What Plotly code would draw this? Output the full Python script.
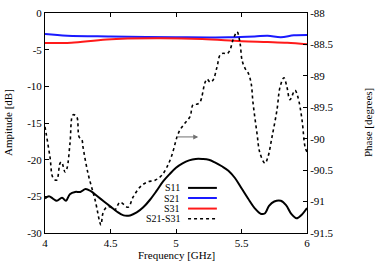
import plotly.graph_objects as go

freq_s11 = [4.0, 4.03, 4.06, 4.09, 4.13, 4.16, 4.19, 4.23, 4.27, 4.31, 4.35, 4.4, 4.45, 4.5, 4.55, 4.6,
            4.65, 4.7, 4.75, 4.8, 4.85, 4.9, 4.95, 5.0, 5.05, 5.1, 5.15, 5.2, 5.25, 5.3, 5.35, 5.4,
            5.45, 5.5, 5.55, 5.6, 5.65, 5.68, 5.71, 5.75, 5.8, 5.84, 5.88, 5.92, 5.96, 6.0]
s11 = [-25.3, -25.0, -25.3, -25.6, -25.2, -25.6, -24.7, -24.4, -24.4, -24.0, -24.3, -25.0, -25.7, -26.4, -27.1, -27.6,
       -27.6, -27.2, -26.5, -25.5, -24.3, -23.0, -22.0, -21.1, -20.5, -20.1, -19.9, -19.9, -20.0, -20.4, -20.9, -21.5,
       -22.5, -23.9, -25.3, -26.6, -27.4, -27.3, -26.3, -25.7, -25.6, -26.2, -27.4, -28.0, -27.5, -26.6]

freq_s21 = [4.0, 4.17, 4.5, 5.0, 5.4, 5.6, 5.7, 5.8, 5.9, 6.0]
s21 = [-2.86, -3.09, -3.2, -3.3, -3.32, -3.2, -3.1, -3.3, -3.05, -3.0]

freq_s31 = [4.0, 4.2, 4.47, 4.85, 5.2, 5.5, 5.7, 5.85, 6.0]
s31 = [-4.1, -4.05, -3.6, -3.45, -3.55, -3.85, -3.95, -4.05, -4.27]

freq_ph = [4.0, 4.038, 4.061, 4.089, 4.115, 4.127, 4.153, 4.168, 4.191, 4.214, 4.242, 4.26, 4.282, 4.29,
           4.328, 4.382, 4.427, 4.443, 4.471, 4.511, 4.534, 4.573, 4.634, 4.672, 4.725, 4.779, 4.84,
           4.893, 4.931, 4.969, 5.008, 5.031, 5.069, 5.107, 5.13, 5.16, 5.183, 5.221, 5.237, 5.26,
           5.282, 5.313, 5.336, 5.359, 5.389, 5.412, 5.435, 5.466, 5.489, 5.504, 5.527, 5.55, 5.573,
           5.588, 5.618, 5.641, 5.679, 5.702, 5.733, 5.771, 5.794, 5.824, 5.847, 5.87, 5.908, 5.931,
           5.962, 5.985, 6.0]
phase = [-89.81, -90.29, -90.62, -90.66, -90.39, -90.37, -90.53, -90.47, -90.07, -89.62, -89.65, -89.97,
         -90.02, -90.13, -90.55, -90.97, -91.37, -91.18, -91.09, -91.09, -91.13, -91.01, -91.09, -90.93,
         -90.77, -90.69, -90.66, -90.58, -90.45, -90.26, -89.97, -89.86, -89.75, -89.65, -89.46, -89.45,
         -89.42, -89.11, -89.05, -89.10, -89.07, -88.86, -88.67, -88.64, -88.65, -88.59, -88.43, -88.30,
         -88.48, -88.75, -88.88, -88.95, -89.11, -89.43, -89.91, -90.23, -90.39, -90.29, -89.97, -89.54,
         -89.18, -89.03, -89.18, -89.38, -89.23, -89.34, -89.70, -90.13, -90.21]

x_ticks = [4, 4.5, 5, 5.5, 6]
y_ticks = [0, -5, -10, -15, -20, -25, -30]
y2_ticks = [-88, -88.5, -89, -89.5, -90, -90.5, -91, -91.5]

series_names = ["S11", "S21", "S31", "S21-S31"]
series_colors = ["black", "#1a1aff", "#ff1a1a", "black"]
series_dash = ["solid", "solid", "solid", "dot"]

FONT = "'Liberation Serif', 'Times New Roman', serif"

fig = go.Figure()
fig.add_trace(go.Scatter(x=freq_s21, y=s21, mode="lines", line=dict(color=series_colors[1], width=2, shape="spline"), name="S21"))
fig.add_trace(go.Scatter(x=freq_s31, y=s31, mode="lines", line=dict(color=series_colors[2], width=2, shape="spline"), name="S31"))
fig.add_trace(go.Scatter(x=freq_s11, y=s11, mode="lines", line=dict(color=series_colors[0], width=2, shape="spline"), name="S11"))
fig.add_trace(go.Scatter(x=freq_ph, y=phase, mode="lines", yaxis="y2",
                         line=dict(color=series_colors[3], width=1.6, dash="dot", shape="spline"), name="S21-S31"))

# manual legend (gnuplot style: text right, sample to the right)
leg_y = [0.205, 0.159, 0.111, 0.065]
for name, col, dsh, yy in zip(series_names, series_colors, series_dash, leg_y):
    fig.add_annotation(x=0.523, y=yy, xref="paper", yref="paper", text=name, showarrow=False,
                       xanchor="right", yanchor="middle", font=dict(family=FONT, size=10, color="black"))
    fig.add_shape(type="line", xref="paper", yref="paper", x0=0.546, x1=0.656, y0=yy, y1=yy,
                  line=dict(color=col, width=2 if dsh == "solid" else 1.6, dash=dsh))

# arrow pointing to right axis
fig.add_annotation(x=5.17, y=-16.9, ax=5.0, ay=-16.9, xref="x", yref="y", axref="x", ayref="y",
                   text="", showarrow=True, arrowhead=2, arrowsize=1, arrowwidth=1, arrowcolor="#707070")

# axis titles
fig.add_annotation(x=0.5, y=-0.1, xref="paper", yref="paper", text="Frequency [GHz]", showarrow=False,
                   xanchor="center", yanchor="middle", font=dict(family=FONT, size=11, color="black"))
fig.add_annotation(x=-0.141, y=0.5, xref="paper", yref="paper", text="Ampitude [dB]", showarrow=False,
                   textangle=-90, xanchor="center", yanchor="middle", font=dict(family=FONT, size=11, color="black"))
fig.add_annotation(x=1.233, y=0.5, xref="paper", yref="paper", text="Phase [degrees]", showarrow=False,
                   textangle=-90, xanchor="center", yanchor="middle", font=dict(family=FONT, size=11, color="black"))

axis_common = dict(showline=True, linecolor="black", linewidth=1, ticks="inside", ticklen=4,
                   tickcolor="black", showgrid=False, zeroline=False, automargin=False,
                   tickfont=dict(family=FONT, size=11, color="black"))

fig.update_layout(
    width=382, height=268,
    margin=dict(l=45, r=75, t=13, b=35),
    plot_bgcolor="white", paper_bgcolor="white",
    showlegend=False,
    font=dict(family=FONT, size=11, color="black"),
    xaxis=dict(range=[4, 6], tickvals=x_ticks, mirror="ticks", **axis_common),
    yaxis=dict(range=[-30, 0], tickvals=y_ticks, ticktext=[str(v) for v in y_ticks], **axis_common),
    yaxis2=dict(range=[-91.5, -88], tickvals=y2_ticks, ticktext=[f"{v:g}" for v in y2_ticks],
                overlaying="y", side="right", **axis_common),
)

fig.write_html("out.html", config={"displayModeBar": False},
               post_script="document.body.style.margin='0';document.body.style.overflow='hidden';")
